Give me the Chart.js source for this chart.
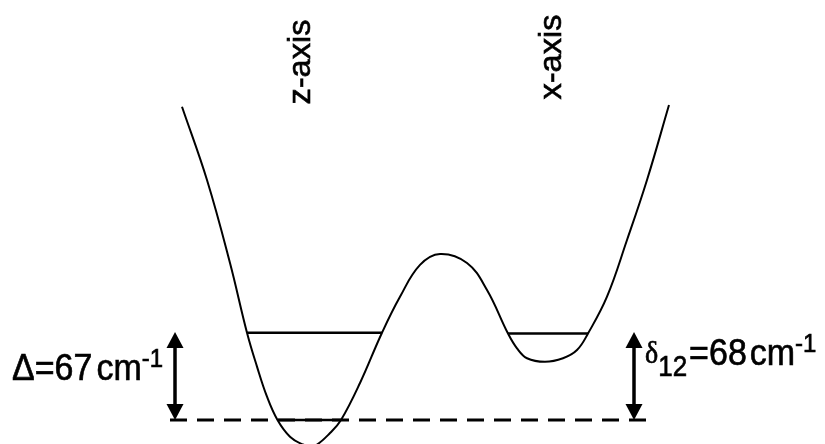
<!DOCTYPE html>
<html>
<head>
<meta charset="utf-8">
<script src="https://cdn.jsdelivr.net/npm/chart.js@4.4.0/dist/chart.umd.min.js"></script>
<style>
  html, body { margin: 0; padding: 0; background: #fff; }
</style>
</head>
<body>
<canvas id="mycanvas" width="825" height="444"></canvas>
<script>
// position along the rotation path (arbitrary units) and potential energy in cm-1
var pathPos = [182, 207, 230, 247, 257, 267, 277.5, 290, 303, 310, 317, 330, 341, 360, 382, 400, 420, 440, 467, 487, 508, 517, 527, 545, 563, 577, 588, 607, 627, 647, 669];
var energy  = [240.4, 184.2, 120.5, 67, 41, 17.9, 0, -12.8, -18.8, -19.6, -18.8, -10, 0, 28.4, 67, 94.6, 119, 127.4, 120.5, 99.8, 66.4, 55, 47.4, 44.7, 47.4, 53.7, 66.4, 94.6, 138.1, 184.2, 241.7];

// energy levels (solid lines)
var levelStart = [247, 508, 278];
var levelEnd   = [382, 588, 341];
var levelE     = [67, 66.4, 0];

// ground level reference (dashed)
var groundStart = 170, groundEnd = 655, groundE = 0;

// double arrows for the splittings
var arrowPos  = [175, 634];
var arrowFrom = [0, 0];
var arrowTo   = [67.5, 67.5];

// axis labels over the two wells
var wellLabels = ["z-axis", "x-axis"];

var datasets = [];
datasets.push({
  data: pathPos.map(function(x, i){ return {x: x, y: energy[i]}; }),
  showLine: true,
  borderColor: "#000",
  borderWidth: 2,
  pointRadius: 0,
  tension: 0.4
});
datasets.push({
  data: [{x: groundStart, y: groundE}, {x: groundEnd, y: groundE}],
  showLine: true,
  borderColor: "#000",
  borderWidth: 3,
  borderDash: [17, 10],
  pointRadius: 0
});
for (var i = 0; i < levelE.length; i++) {
  datasets.push({
    data: [{x: levelStart[i], y: levelE[i]}, {x: levelEnd[i], y: levelE[i]}],
    showLine: true,
    borderColor: "#000",
    borderWidth: 2.6,
    pointRadius: 0
  });
}

function drawRich(ctx, x, y, parts) {
  ctx.save();
  ctx.translate(x, y);
  ctx.scale(1, 1.1);
  ctx.textBaseline = "alphabetic";
  ctx.textAlign = "left";
  ctx.lineWidth = 0.6;
  var cx = 0;
  parts.forEach(function(p){
    ctx.font = p.font;
    cx += (p.dx || 0);
    ctx.fillText(p.t, cx, p.dy || 0);
    ctx.strokeText(p.t, cx, p.dy || 0);
    cx += ctx.measureText(p.t).width;
  });
  ctx.restore();
}

var annotate = {
  id: "annotate",
  afterDatasetsDraw: function(chart) {
    var ctx = chart.ctx;
    var xs = chart.scales.x, ys = chart.scales.y;
    ctx.save();
    ctx.fillStyle = "#000";
    ctx.strokeStyle = "#000";

    // arrows
    for (var i = 0; i < arrowPos.length; i++) {
      var px = xs.getPixelForValue(arrowPos[i]);
      var yb = ys.getPixelForValue(arrowFrom[i]);
      var yt = ys.getPixelForValue(arrowTo[i]);
      var hl = 16, hw = 8.5;
      ctx.lineWidth = 3.5;
      ctx.beginPath();
      ctx.moveTo(px, yb - hl + 2);
      ctx.lineTo(px, yt + hl - 2);
      ctx.stroke();
      ctx.beginPath();
      ctx.moveTo(px, yt);
      ctx.lineTo(px - hw, yt + hl);
      ctx.lineTo(px + hw, yt + hl);
      ctx.closePath();
      ctx.fill();
      ctx.beginPath();
      ctx.moveTo(px, yb);
      ctx.lineTo(px - hw, yb - hl);
      ctx.lineTo(px + hw, yb - hl);
      ctx.closePath();
      ctx.fill();
    }

    // vertical axis labels
    var labelX = [301, 552], labelY = [62, 57];
    ctx.font = "31px 'Liberation Sans', Arial, sans-serif";
    ctx.textAlign = "center";
    ctx.textBaseline = "middle";
    ctx.lineWidth = 0.6;
    for (var j = 0; j < wellLabels.length; j++) {
      ctx.save();
      ctx.translate(labelX[j], labelY[j]);
      ctx.rotate(-Math.PI / 2);
      ctx.scale(1.05, 1);
      ctx.fillText(wellLabels[j], 0, 0);
      ctx.strokeText(wellLabels[j], 0, 0);
      ctx.restore();
    }

    var f = "'Liberation Sans', Arial, sans-serif";
    drawRich(ctx, 12, 380, [
      {t: "\u0394", font: "34px " + f},
      {t: "=67", font: "34px " + f},
      {t: "cm", font: "34px " + f, dx: 4},
      {t: "-1", font: "24px " + f, dy: -12}
    ]);
    drawRich(ctx, 645, 365, [
      {t: "\u03b4", font: "28px 'Liberation Serif', serif", dy: -2},
      {t: "12", font: "26px " + f, dy: 10},
      {t: "=68", font: "34px " + f, dx: 2},
      {t: "cm", font: "34px " + f, dx: 3},
      {t: "-1", font: "24px " + f, dy: -12}
    ]);
    ctx.restore();
  }
};

var ctx = document.getElementById("mycanvas");
var chart = new Chart(ctx, {
  type: "scatter",
  data: { datasets: datasets },
  options: {
    responsive: false,
    devicePixelRatio: 1,
    animation: false,
    layout: { padding: 0 },
    plugins: { legend: { display: false }, tooltip: { enabled: false } },
    scales: {
      x: { type: "linear", display: false, min: 0, max: 825 },
      y: { type: "linear", display: false, min: -18.4, max: 322.3 }
    }
  },
  plugins: [annotate]
});
</script>
</body>
</html>
